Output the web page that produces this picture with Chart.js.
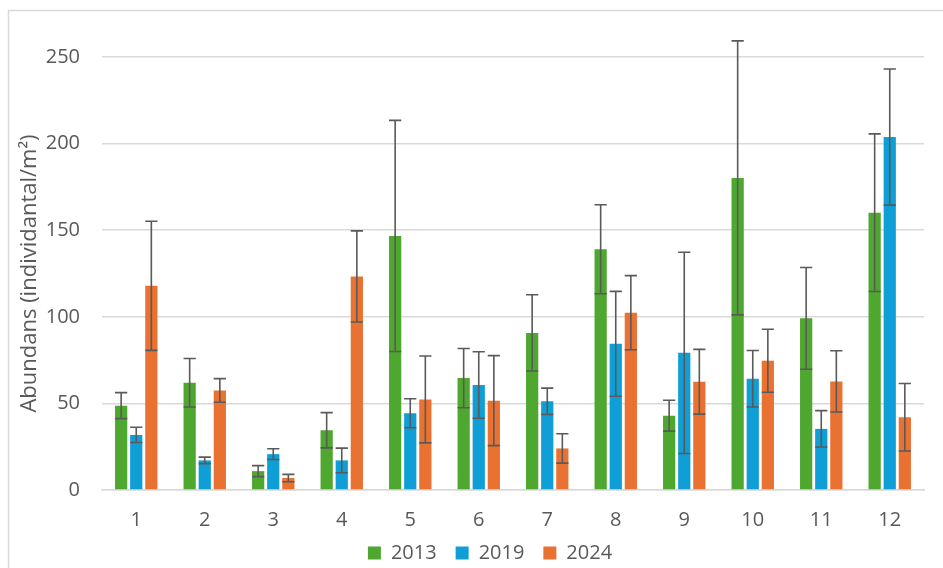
<!DOCTYPE html>
<html>
<head>
<meta charset="utf-8">
<script src="https://cdn.jsdelivr.net/npm/chart.js@4/dist/chart.umd.min.js"></script>
<style>
  html, body { margin: 0; padding: 0; background: #ffffff; }
  #wrap { width: 943px; height: 568px; position: relative; }
</style>
</head>
<body>
<div id="wrap"><canvas id="c" width="943" height="568"></canvas></div>
<script>
const categories = ['1','2','3','4','5','6','7','8','9','10','11','12'];
const seriesNames = ['2013','2019','2024'];
const values2013 = [48.7, 61.9, 10.9, 34.5, 146.7, 64.6, 90.7, 139.0, 42.9, 180.2, 99.1, 160.1];
const values2019 = [31.8, 17.1, 20.7, 17.1, 44.3, 60.6, 51.2, 84.4, 79.2, 64.2, 35.3, 203.8];
const values2024 = [117.9, 57.5, 6.9, 123.3, 52.3, 51.6, 24.0, 102.4, 62.5, 74.6, 62.7, 42.0];
const err2013 = [7.5, 14.0, 3.2, 10.2, 66.7, 17.1, 22.0, 25.7, 8.9, 79.1, 29.4, 45.5];
const err2019 = [4.4, 1.9, 3.1, 7.1, 8.4, 19.2, 7.6, 30.3, 58.1, 16.3, 10.5, 39.3];
const err2024 = [37.3, 6.8, 2.1, 26.3, 25.1, 26.0, 8.5, 21.4, 18.7, 18.2, 17.7, 19.5];
const yTicks = [0, 50, 100, 150, 200, 250];
const yTitle = 'Abundans (individantal/m\u00B2)';

const colors = ['#4EA72E', '#0F9ED5', '#E97132'];
const textColor = '#595959';
const fontFamily = '"Open Sans", "Liberation Sans", Arial, sans-serif';

const errorBars = {
  id: 'errorBars',
  afterDatasetsDraw(chart) {
    const ctx = chart.ctx;
    const y = chart.scales.y;
    chart.data.datasets.forEach((ds, di) => {
      const meta = chart.getDatasetMeta(di);
      meta.data.forEach((bar, i) => {
        const v = ds.data[i], e = ds.errors[i];
        const top = y.getPixelForValue(v + e);
        const bot = y.getPixelForValue(v - e);
        const half = bar.width / 2;
        ctx.save();
        ctx.strokeStyle = '#5a5a5a';
        ctx.lineWidth = 1.6;
        ctx.beginPath();
        ctx.moveTo(bar.x, top); ctx.lineTo(bar.x, bot);
        ctx.moveTo(bar.x - half, top); ctx.lineTo(bar.x + half, top);
        ctx.moveTo(bar.x - half, bot); ctx.lineTo(bar.x + half, bot);
        ctx.stroke();
        ctx.restore();
      });
    });
  }
};

const frame = {
  id: 'frame',
  beforeDraw(chart) {
    const ctx = chart.ctx;
    ctx.save();
    ctx.fillStyle = '#ffffff';
    ctx.fillRect(0, 0, chart.width, chart.height);
    ctx.strokeStyle = '#d9d9d9';
    ctx.lineWidth = 1.5;
    ctx.strokeRect(8.5, 10.5, 960, 600);
    ctx.restore();
  }
};

// keep legend compact in layout, then place it where the reference has it
const legendPlace = {
  id: 'legendPlace',
  beforeLayout(chart) {
    const lg = chart.legend;
    if (lg && !lg._patched) {
      const f = lg.fit.bind(lg);
      lg.fit = function () { f(); this.height = 36; };
      lg._patched = true;
    }
  },
  afterLayout(chart) {
    const lg = chart.legend;
    if (!lg) return;
    const h = lg.height;
    lg.top = 524; lg.bottom = 524 + h;
    lg.left += 24; lg.right += 24;
  }
};

const valueSets = [values2013, values2019, values2024];
const errSets = [err2013, err2019, err2024];

new Chart(document.getElementById('c'), {
  type: 'bar',
  data: {
    labels: categories,
    datasets: seriesNames.map((n, k) => ({
      label: n,
      data: valueSets[k],
      errors: errSets[k],
      backgroundColor: colors[k],
      borderWidth: 0,
      barPercentage: 0.81,
      categoryPercentage: 0.661
    }))
  },
  options: {
    responsive: false,
    animation: false,
    devicePixelRatio: 1,
    layout: { padding: { left: 8, top: 57, right: 19, bottom: 0 } },
    plugins: {
      tooltip: { enabled: false },
      legend: {
        position: 'bottom',
        labels: {
          boxWidth: 13, boxHeight: 13, padding: 19,
          color: textColor,
          font: { family: fontFamily, size: 20 }
        }
      }
    },
    scales: {
      x: {
        grid: { display: false, drawTicks: false },
        border: { display: true, color: '#d9d9d9', width: 1.5 },
        ticks: { color: textColor, padding: 18, font: { family: fontFamily, size: 20 } },
        afterFit(s) { s.height = 42; }
      },
      y: {
        min: 0, max: 250,
        afterBuildTicks(s) { s.ticks = yTicks.map(v => ({ value: v })); },
        grid: { color: '#d9d9d9', lineWidth: 1.5, drawTicks: false },
        border: { display: false },
        ticks: { color: textColor, padding: 22, font: { family: fontFamily, size: 20 } },
        title: {
          display: true, text: yTitle, color: textColor,
          font: { family: fontFamily, size: 22 },
          padding: { top: 9, bottom: 0 }
        },
        afterFit(s) { s.width = 94; }
      }
    }
  },
  plugins: [frame, legendPlace, errorBars]
});
</script>
</body>
</html>
